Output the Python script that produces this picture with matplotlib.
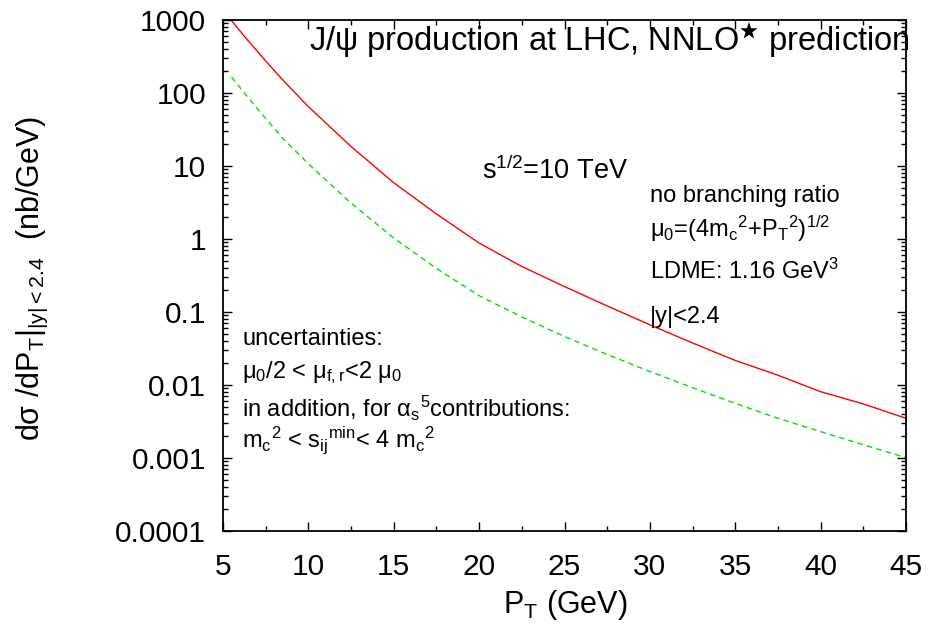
import numpy as np
import matplotlib
matplotlib.use('Agg')
from matplotlib import pyplot as plt
from matplotlib.ticker import LogLocator, FixedLocator, FuncFormatter, NullFormatter

plt.rcParams['font.family'] = ['Liberation Sans', 'DejaVu Sans']
plt.rcParams['mathtext.fontset'] = 'custom'
plt.rcParams['mathtext.rm'] = 'Liberation Sans'
plt.rcParams['mathtext.it'] = 'Liberation Sans:italic'
plt.rcParams['mathtext.bf'] = 'Liberation Sans:bold'
plt.rcParams['mathtext.fallback'] = 'stixsans'

# J/psi cross section (nb/GeV)
pt = [5.5, 6.5, 7.5, 8.5, 10, 12.5, 15, 17.5, 20, 22.5, 25, 27.5, 30, 32.5, 35, 37.5, 40, 42.5, 45]
upper = [980, 510, 275, 151, 65, 18.5, 5.9, 2.2, 0.88, 0.42, 0.223, 0.121, 0.0668, 0.0376,
         0.0217, 0.0136, 0.0081, 0.0055, 0.0035]
lower = [165, 85, 44.7, 24, 10.7, 3.1, 1.03, 0.395, 0.167, 0.0855, 0.0462, 0.0262, 0.0153, 0.0092,
         0.0056, 0.0035, 0.0023, 0.00152, 0.00101]

xticks = [5, 10, 15, 20, 25, 30, 35, 40, 45]
yticks = [1e-4, 1e-3, 1e-2, 1e-1, 1, 10, 100, 1000]

fig = plt.figure(figsize=(9.31, 6.32), dpi=100)
ax = fig.add_axes([223 / 931, 1 - 531 / 632, 683 / 931, 511 / 632])

ax.plot(pt, upper, color='#ff0000', lw=1.0)
ax.plot(pt, lower, color='#00e000', lw=1.0, dashes=(4, 3))

ax.set_yscale('log')
ax.set_xlim(5, 45)
ax.set_ylim(1e-4, 1000)

ax.xaxis.set_major_locator(FixedLocator(xticks))
ax.xaxis.set_minor_locator(FixedLocator(np.arange(7.5, 45, 5)))
ax.yaxis.set_major_locator(FixedLocator(yticks))
ax.yaxis.set_minor_locator(LogLocator(base=10, subs=np.arange(2, 10), numticks=20))
ax.yaxis.set_major_formatter(FuncFormatter(lambda v, p: '%g' % v))
ax.yaxis.set_minor_formatter(NullFormatter())

ax.tick_params(which='both', direction='in', top=True, right=True, width=1.0)
ax.tick_params(which='major', length=6.5, labelsize=21.5)
ax.tick_params(axis='y', which='major', pad=12)
ax.tick_params(axis='x', which='major', pad=16)
ax.tick_params(which='minor', length=3.3)
for s in ax.spines.values():
    s.set_linewidth(1.3)

# axis labels
fig.text(565 / 931, 1 - 605 / 632, 'P$_\\mathrm{T}$ (GeV)', fontsize=22, ha='center', va='center')
fig.text(32 / 931, 1 - 278 / 632, 'dσ /dP$_\\mathrm{T}$|$_\\mathrm{|y|<2.4}$  (nb/GeV)',
         fontsize=22, ha='center', va='center', rotation=90)

# text inside the frame
ax.text(0.126, 0.941, 'J/ψ production at LHC, NNLO$^{\\bigstar}$ prediction', fontsize=23.5,
        transform=ax.transAxes, va='baseline')
ax.text(0.379, 0.689, 's$^\\mathrm{1/2}$=10 TeV', fontsize=19.5, transform=ax.transAxes, va='baseline')

right_notes = [
    (0.643, 'no branching ratio'),
    (0.576, 'μ$_\\mathrm{0}$=(4m$_\\mathrm{c}$$^\\mathrm{2}$+P$_\\mathrm{T}$$^\\mathrm{2}$)$^\\mathrm{1/2}$'),
    (0.493, 'LDME: 1.16 GeV$^\\mathrm{3}$'),
    (0.407, '|y|<2.4'),
]
for fy, s in right_notes:
    ax.text(0.625, fy, s, fontsize=17, transform=ax.transAxes, va='baseline')

left_notes = [
    (0.364, 'uncertainties:'),
    (0.299, 'μ$_\\mathrm{0}$/2 < μ$_\\mathrm{f,r}$<2 μ$_\\mathrm{0}$'),
    (0.223, 'in addition, for α$_\\mathrm{s}$$^\\mathrm{5}$contributions:'),
    (0.165, 'm$_\\mathrm{c}$$^\\mathrm{2}$ < s$_\\mathrm{ij}$$^\\mathrm{min}$< 4 m$_\\mathrm{c}$$^\\mathrm{2}$'),
]
for fy, s in left_notes:
    ax.text(0.028, fy, s, fontsize=17, transform=ax.transAxes, va='baseline')

plt.savefig('out.png', dpi=100)
